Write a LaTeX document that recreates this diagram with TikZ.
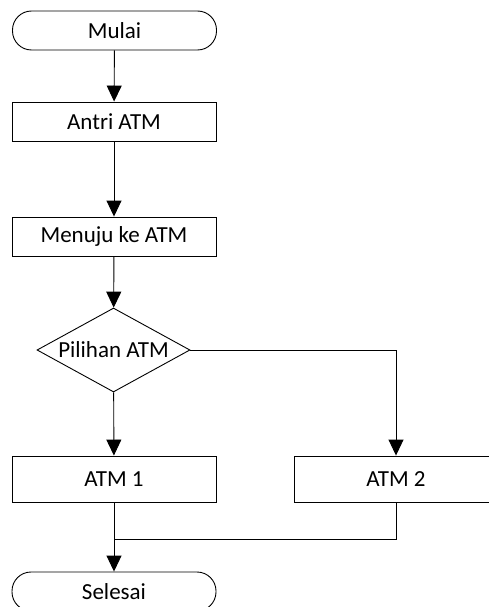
\documentclass[tikz,border=0pt]{standalone}
\usepackage{fontspec}
\setmainfont{Carlito}
\usetikzlibrary{arrows.meta,shapes.geometric}
\begin{document}
\begin{tikzpicture}[x=1pt,y=-1pt,
  ln/.style={line width=0.9pt},
  box/.style={draw, ln, minimum width=204pt, minimum height=39pt, inner sep=0pt,
    font=\fontsize{23}{27}\selectfont},
  term/.style={box, rounded corners=19pt},
  arr/.style={ln, -{Triangle[length=16pt,width=15pt]}}]
\useasboundingbox (0,0) rectangle (488,607);

% process steps
\node[term] (start) at (114.5,30.5) {Mulai};
\node[box] (antri) at (114,121.5) {Antri ATM};
\node[box] (menuju) at (114,236.5) {Menuju ke ATM};
\node[diamond, draw, ln, inner sep=0pt, aspect=1.82,
  minimum width=153pt, minimum height=84pt,
  font=\fontsize{23}{27}\selectfont] (choice) at (113.5,350) {Pilihan ATM};
\node[box, minimum height=46pt] (atm1) at (114,479) {ATM 1};
\node[box, minimum height=46pt] (atm2) at (396,479) {ATM 2};
\node[term] (end) at (114,591.5) {Selesai};
\coordinate (join) at (114,539);

% flow lines
\draw[arr] (start) -- (antri);
\draw[arr] (antri) -- (menuju);
\draw[arr] (menuju) -- (choice);
\draw[arr] (choice) -- (atm1);
\draw[arr] (choice.east) -| (atm2);
\draw[arr] (atm1) -- (end);
\draw[ln] (atm2) |- (join);
\end{tikzpicture}
\end{document}
